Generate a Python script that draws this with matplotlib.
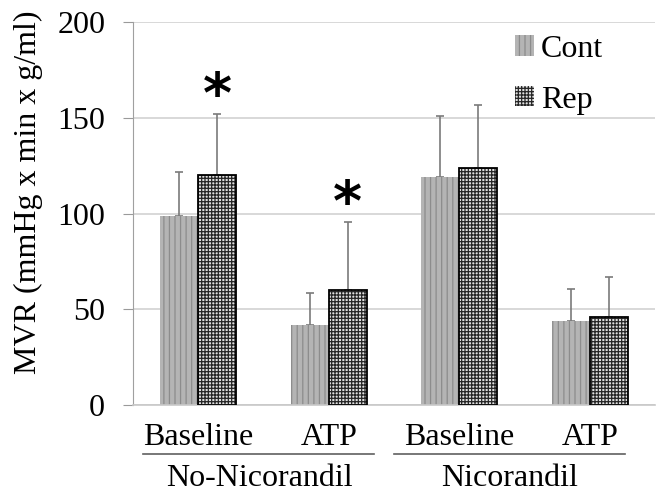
import matplotlib.pyplot as plt
import numpy as np

plt.rcParams['font.family'] = ['Liberation Serif', 'DejaVu Serif']
plt.rcParams['hatch.linewidth'] = 0.9

# data
categories = ['Baseline', 'ATP', 'Baseline', 'ATP']
groups = ['No-Nicorandil', 'Nicorandil']
cont_mean = [99, 42, 119, 44]
cont_sd = [23, 16.5, 32, 16.5]
rep_mean = [120, 60, 124, 46]
rep_sd = [32, 35.5, 33, 21]
rep_sig = [True, True, False, False]

fig = plt.figure(figsize=(6.65, 4.94), dpi=100)
ax = fig.add_axes([0.2, 0.18, 0.785, 0.775])

x = np.arange(len(categories))
w = 0.29
fs = 23

ax.bar(x - w / 2, cont_mean, w, color='#b4b4b4', edgecolor='#8c8c8c',
       hatch='|||', linewidth=0, label='Cont', zorder=2)
ax.bar(x + w / 2, rep_mean, w, color='#e0e0e0', edgecolor='#252525',
       hatch='+++++', linewidth=0, label='Rep', zorder=2)
# black outline of Rep bars
ax.bar(x + w / 2, rep_mean, w, fill=False, edgecolor='black', linewidth=1.3, zorder=3)

ax.errorbar(x - w / 2, cont_mean, yerr=[np.zeros(4), cont_sd], fmt='none',
            ecolor='#7a7a7a', elinewidth=1.2, capsize=3, capthick=1.2, zorder=1)
ax.errorbar(x + w / 2, rep_mean, yerr=[np.zeros(4), rep_sd], fmt='none',
            ecolor='#7a7a7a', elinewidth=1.2, capsize=3, capthick=1.2, zorder=1)

for i in range(len(x)):
    if rep_sig[i]:
        ax.text(x[i] + w / 2, rep_mean[i] + rep_sd[i] - 5, '*', ha='center',
                va='bottom', fontsize=40, fontweight='bold', family='DejaVu Sans')

ax.set_xlim(-0.5, 3.5)
ax.set_ylim(0, 200)
ax.set_yticks([0, 50, 100, 150, 200])
ax.tick_params(axis='y', labelsize=fs, length=7, color='#9a9a9a', pad=13)
ax.tick_params(axis='x', length=0, labelsize=fs, pad=13)
ax.set_xticks(x)
ax.set_xticklabels(categories)
ax.yaxis.grid(True, color='#d2d2d2', linewidth=1.2)
ax.set_axisbelow(True)
for s in ['top', 'right']:
    ax.spines[s].set_visible(False)
ax.spines['left'].set_color('#a0a0a0')
ax.spines['bottom'].set_color('#c8c8c8')
ax.spines['bottom'].set_linewidth(1.2)

ax.set_ylabel('MVR (mmHg x min x g/ml)', fontsize=fs, va='center')
ax.yaxis.set_label_coords(-0.2, 0.556)

# group labels under category labels
group_spans = [(-0.42, 1.35), (1.5, 3.27)]
for g, (x0, x1) in zip(groups, group_spans):
    ax.plot([x0, x1], [-0.128, -0.128], color='#606060', lw=1.2,
            transform=ax.get_xaxis_transform(), clip_on=False)
    ax.text((x0 + x1) / 2, -0.193, g, ha='center', va='center', fontsize=fs,
            transform=ax.get_xaxis_transform())

ax.legend(loc='upper left', bbox_to_anchor=(0.732, 0.967), frameon=False,
          fontsize=fs, handlelength=0.6, handleheight=0.6, handletextpad=0.2,
          labelspacing=0.68, borderpad=0, borderaxespad=0)

fig.savefig('out.png', dpi=100)
